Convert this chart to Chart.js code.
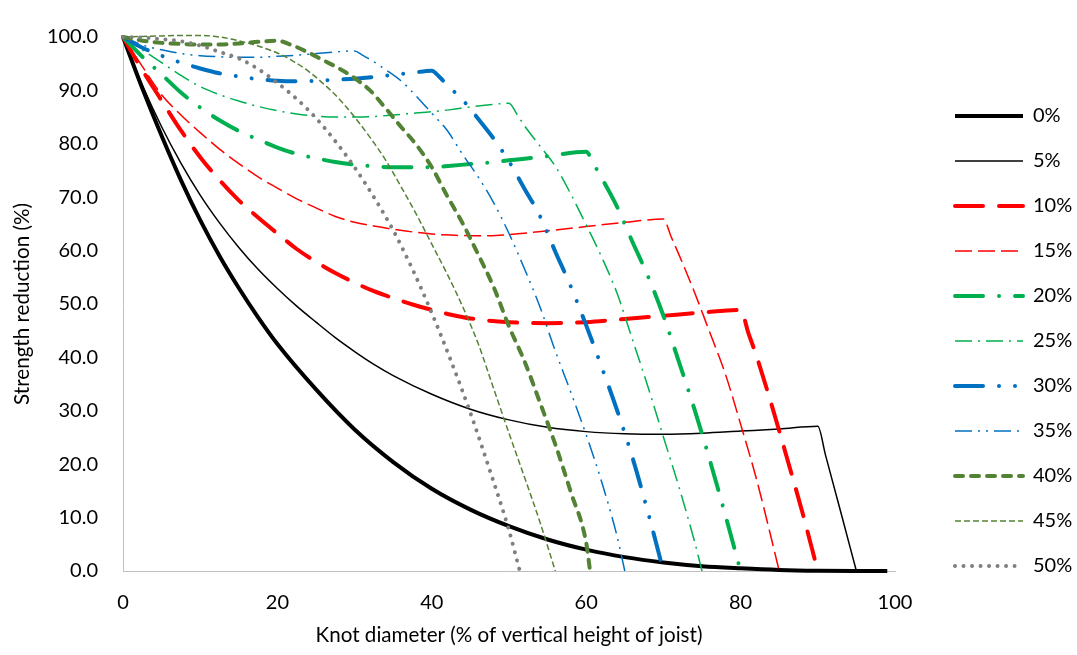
<!DOCTYPE html>
<html>
<head>
<meta charset="utf-8">
<script src="https://cdn.jsdelivr.net/npm/chart.js@4.4.1/dist/chart.umd.min.js"></script>
<style>
html,body{margin:0;padding:0;background:#ffffff;}
#wrap{width:1077px;height:655px;}
</style>
</head>
<body>
<div id="wrap"><canvas id="c" width="1077" height="655"></canvas></div>
<script>
// ---- data ----
const seriesNames = ['0%','5%','10%','15%','20%','25%','30%','35%','40%','45%','50%'];

const x00 = [0,2.5,5,7.5,10,12.5,15,17.5,20,25,30,35,40,45,50,55,60,65,70,75,80,85,90,95,99];
const y00 = [100,90.4,81.5,73.2,65.7,59.0,53.0,47.5,42.5,34.0,26.5,20.4,15.4,11.5,8.4,5.9,4.0,2.6,1.6,0.9,0.5,0.2,0.05,0,0];

const x05 = [0,2.5,5,7.5,10,12.5,15,17.5,20,22.5,25,27.5,30,32.5,35,40,45,50,55,60,65,70,75,80,85,90,91,93,95];
const y05 = [100,91.0,83.2,76.4,70.4,65.2,60.6,56.5,52.9,49.6,46.6,43.7,41.1,38.7,36.6,33.1,30.3,28.3,26.9,26.1,25.7,25.6,25.8,26.2,26.6,27.1,21.7,10.9,0];

const x10 = [0,2.5,5,7.5,10,12.5,15,17.5,20,22.5,25,27.5,30,32.5,35,37.5,40,42.5,45,50,55,60,65,70,75,80,81,82,84,86,88,90];
const y10 = [100,93.8,88.1,82.5,77.5,73.2,69.4,66.2,63.2,60.3,57.9,55.8,54.0,52.4,51.1,49.9,48.9,48.0,47.3,46.6,46.4,46.6,47.2,47.8,48.4,48.9,44.6,40.5,31.2,21.2,11.0,0];

const x15 = [0,2.5,5,7.5,10,12.5,15,17.5,20,22.5,25,27.5,30,32.5,35,37.5,40,42.5,45,47.5,50,55,60,65,70,71,72,74,76,78,80,82,84,85];
const y15 = [100,94.5,89.2,85.4,82.1,79.0,76.3,73.8,71.7,69.7,68.0,66.4,65.3,64.6,64.0,63.5,63.1,62.9,62.8,62.8,63.0,63.7,64.5,65.3,65.9,62.6,59.3,52.3,44.7,37.0,27.5,17.5,6.0,0];

const x20 = [0,2.5,5,7.5,10,12.5,15,17.5,20,22.5,25,27.5,30,32.5,35,37.5,40,42.5,45,47.5,50,55,60,61,62,64,66,68,70,72,74,76,78,80];
const y20 = [100,96.3,93.0,89.6,86.8,84.4,82.4,80.8,79.3,78.1,77.3,76.6,76.1,75.8,75.6,75.6,75.6,75.9,76.2,76.5,76.9,77.7,78.5,76.1,73.6,68.2,61.6,55.2,47.8,39.2,30.4,20.8,10.6,0];

const x25 = [0,2.5,5,7.5,10,12.5,15,17.5,20,22.5,25,27.5,30,32.5,35,37.5,40,42.5,45,47.5,50,51,52,54,56,58,60,62,64,66,68,70,72,74,75];
const y25 = [100,97.6,95.2,92.8,90.7,89.2,88.0,87.0,86.2,85.6,85.2,85.0,85.0,85.1,85.4,85.7,86.0,86.4,86.9,87.3,87.6,85.6,83.4,79.6,75.8,70.6,64.8,58.8,52.0,43.3,34.5,25.1,15.8,5.7,0];

const x30 = [0,2.5,5,7.5,10,12.5,15,17.5,20,22.5,25,27.5,30,32.5,35,37.5,40,41,42,44,46,48,50,52,54,56,58,60,62,64,66,68,70];
const y30 = [100,98.0,96.5,95.2,94.1,93.2,92.6,92.1,91.8,91.7,91.8,92.0,92.2,92.5,92.9,93.3,93.7,92.5,91.0,88.2,84.7,81.0,76.7,71.6,66.5,59.8,53.3,46.0,38.2,30.1,21.2,11.0,0];

const x35 = [0,2.5,5,7.5,10,12.5,15,17.5,20,22.5,25,27.5,30,31,32,34,36,38,40,42,44,46,48,50,52,54,56,58,60,62,64,65];
const y35 = [100,98.5,97.6,96.9,96.5,96.3,96.2,96.2,96.4,96.6,96.9,97.2,97.4,96.6,95.8,93.9,91.8,88.9,85.7,82.5,78.0,73.8,69.0,63.2,56.6,49.5,41.2,33.5,25.5,16.7,6.5,0];

const x40 = [0,2.5,5,7.5,10,12.5,15,17.5,20,22,24,26,28,30,32,34,36,38,40,42,44,46,48,50,52,54,56,58,60,60.5];
const y40 = [100,99.3,98.9,98.7,98.6,98.6,98.8,99.1,99.3,98.4,97.1,95.6,94.1,92.3,90.0,86.7,83.2,79.8,75.6,70.2,65.1,59.3,53.2,45.8,39.3,31.6,23.7,14.8,5.3,0];

const x45 = [0,2.5,5,7.5,10,12.5,15,17.5,20,22,24,26,28,30,32,34,36,38,40,42,44,46,48,50,52,54,56];
const y45 = [100,100.1,100.2,100.3,100.3,100.0,99.3,98.3,97.0,95.5,93.6,91.2,88.4,85.0,81.2,77.0,72.0,66.8,61.2,55.6,49.5,42.6,34.2,25.8,17.6,9.2,0];

const x50 = [0,2.5,5,7.5,10,12.5,15,17.5,20,22.5,25,27.5,30,32.5,35,37.5,40,42.5,45,47.5,50,51.4];
const y50 = [100,99.9,99.6,99.2,98.4,97.2,96.0,94.0,91.4,88.4,84.8,80.5,75.6,70.0,63.8,56.5,48.3,39.3,29.6,18.9,7.6,0];

const seriesX = [x00,x05,x10,x15,x20,x25,x30,x35,x40,x45,x50];
const seriesY = [y00,y05,y10,y15,y20,y25,y30,y35,y40,y45,y50];

const xAxisMin = 0, xAxisMax = 100, xTickStep = 20;
const yAxisMin = 0, yAxisMax = 100, yTickStep = 10;

// ---- styles (kept apart from the data) ----
const seriesStyles = [
  {color:'#000000', width:4,   dash:[],                       cap:'butt'},
  {color:'#000000', width:1.5, dash:[],                       cap:'butt'},
  {color:'#FF0000', width:4,   dash:[28,16],                  cap:'round'},
  {color:'#FF0000', width:1.5, dash:[17,6],                   cap:'butt'},
  {color:'#00B050', width:4,   dash:[28,16,0.01,16],          cap:'round'},
  {color:'#00B050', width:1.5, dash:[17,6,2,6],               cap:'butt'},
  {color:'#0070C0', width:4,   dash:[28,16,0.01,16,0.01,16],  cap:'round'},
  {color:'#0070C0', width:1.5, dash:[17,6,2,6,2,6],           cap:'butt'},
  {color:'#548235', width:4,   dash:[8,8],                    cap:'round'},
  {color:'#548235', width:1.5, dash:[6,3],                    cap:'butt'},
  {color:'#7F7F7F', width:4,   dash:[0.01,8.5],               cap:'round'}
];

function build(){
  Chart.defaults.font.family = "Lato, 'DejaVu Sans', sans-serif";
  Chart.defaults.color = '#000000';

  const datasets = seriesNames.map((name, i) => ({
    label: name,
    data: seriesX[i].map((xv, j) => ({x: xv, y: seriesY[i][j]})),
    borderColor: seriesStyles[i].color,
    backgroundColor: seriesStyles[i].color,
    borderWidth: seriesStyles[i].width,
    borderDash: seriesStyles[i].dash,
    borderCapStyle: seriesStyles[i].cap,
    borderJoinStyle: 'round',
    pointRadius: 0,
    pointHoverRadius: 0,
    pointHitRadius: 0,
    fill: false,
    cubicInterpolationMode: 'monotone',
    clip: false,
    order: seriesNames.length - 1 - i
  }));

  new Chart(document.getElementById('c'), {
    type: 'line',
    data: {datasets},
    options: {
      responsive: false,
      animation: false,
      events: [],
      layout: {padding: {top: 23, left: 0, right: 0, bottom: 0}},
      scales: {
        x: {
          type: 'linear', position: 'bottom', min: xAxisMin, max: xAxisMax,
          ticks: {stepSize: xTickStep, padding: 20, color: '#000000', font: {size: 20}},
          grid: {display: false, drawTicks: false},
          border: {display: true, color: '#BFBFBF', width: 1},
          title: {display: true, text: 'Knot diameter (% of vertical height of joist)', color: '#000000',
                  font: {size: 20.6}, padding: {top: 0, bottom: 7}},
          afterFit: s => { s.height = 84; }
        },
        y: {
          type: 'linear', position: 'left', min: yAxisMin, max: yAxisMax,
          ticks: {stepSize: yTickStep, padding: 25, color: '#000000', font: {size: 20},
                  callback: v => Number(v).toFixed(1)},
          grid: {display: false, drawTicks: false},
          border: {display: true, color: '#BFBFBF', width: 1},
          title: {display: true, text: 'Strength reduction (%)', color: '#000000',
                  font: {size: 20.6}, padding: {top: 10, bottom: 0}},
          afterFit: s => { s.width = 123; }
        },
        y2: {
          type: 'linear', position: 'right', display: true,
          grid: {display: false, drawTicks: false},
          border: {display: false},
          ticks: {display: false},
          afterFit: s => { s.width = 35; }
        }
      },
      plugins: {
        tooltip: {enabled: false},
        legend: {
          display: true, position: 'right', align: 'center', maxWidth: 147,
          title: {display: true, text: '', font: {size: 2}, padding: {top: 0, bottom: 1.6}},
          labels: {
            usePointStyle: true, pointStyle: 'line', pointStyleWidth: 68,
            padding: 25, color: '#000000', font: {size: 20},
            sort: (a, b) => a.datasetIndex - b.datasetIndex,
            generateLabels: chart => Chart.defaults.plugins.legend.labels.generateLabels(chart).map(item => {
              const ds = chart.data.datasets[item.datasetIndex];
              item.lineDash = ds.borderDash;
              item.lineWidth = ds.borderWidth;
              item.strokeStyle = ds.borderColor;
              item.fillStyle = ds.borderColor;
              item.lineCap = ds.borderCapStyle;
              item.lineJoin = 'round';
              item.pointStyle = 'line';
              return item;
            })
          }
        }
      }
    }
  });
}

if (document.fonts && document.fonts.load) {
  Promise.all([document.fonts.load('20px Lato')]).then(build, build);
} else {
  build();
}
</script>
</body>
</html>
